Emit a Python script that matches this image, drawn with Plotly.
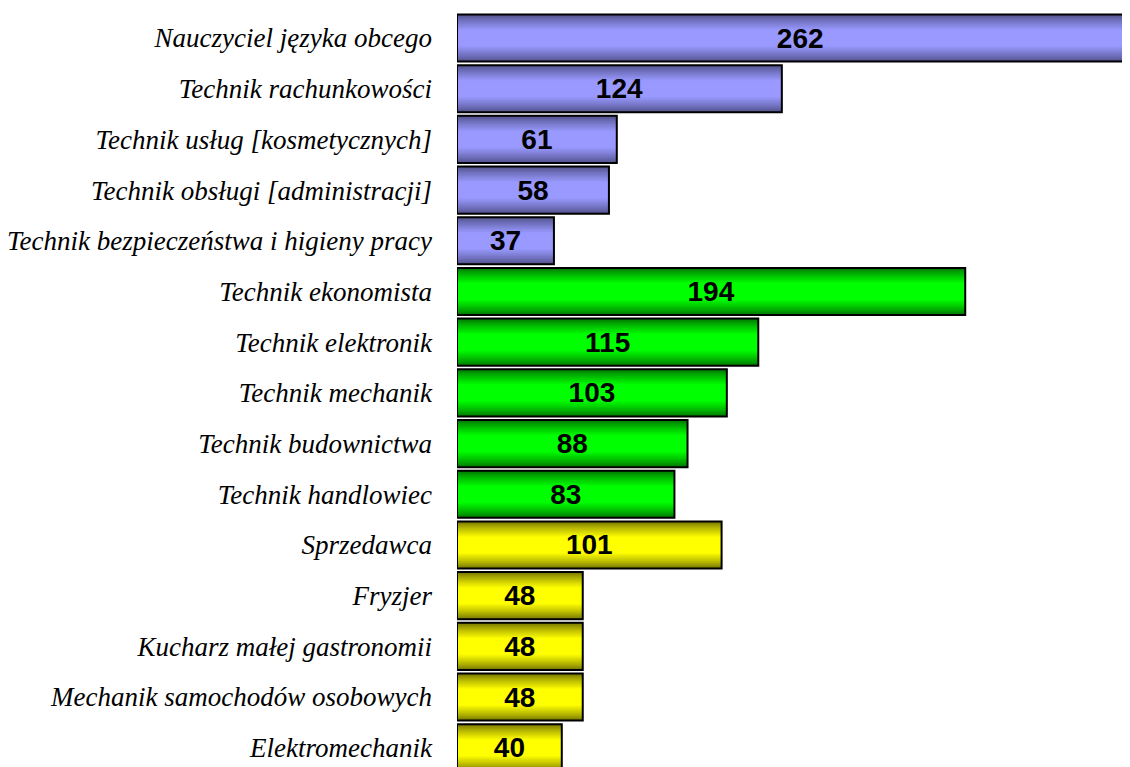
import plotly.graph_objects as go

categories = [
    "Nauczyciel języka obcego",
    "Technik rachunkowości",
    "Technik usług [kosmetycznych]",
    "Technik obsługi [administracji]",
    "Technik bezpieczeństwa i higieny pracy",
    "Technik ekonomista",
    "Technik elektronik",
    "Technik mechanik",
    "Technik budownictwa",
    "Technik handlowiec",
    "Sprzedawca",
    "Fryzjer",
    "Kucharz małej gastronomii",
    "Mechanik samochodów osobowych",
    "Elektromechanik",
]
values = [262, 124, 61, 58, 37, 194, 115, 103, 88, 83, 101, 48, 48, 48, 40]
groups = ["a"] * 5 + ["b"] * 5 + ["c"] * 5

light = {"a": (153, 153, 255), "b": (0, 255, 0), "c": (255, 255, 0)}
dark = {"a": (80, 80, 135), "b": (0, 115, 0), "c": (115, 115, 0)}

pos = list(range(len(categories)))
BW = 0.93

fig = go.Figure()
n_layers = 18
for k in range(n_layers):
    t = k / (n_layers - 1)
    w = BW * (1 - 0.65 * t)
    tt = t ** 0.8
    cols = []
    for g in groups:
        d, l = dark[g], light[g]
        c = tuple(int(d[i] + (l[i] - d[i]) * tt) for i in range(3))
        cols.append("rgb(%d,%d,%d)" % c)
    fig.add_trace(go.Bar(
        x=values, y=pos, orientation="h", width=w,
        marker=dict(color=cols, line=dict(width=0)),
        hoverinfo="skip", showlegend=False,
    ))

fig.add_trace(go.Bar(
    x=values, y=pos, orientation="h", width=BW,
    marker=dict(color="rgba(0,0,0,0)", line=dict(color="black", width=2)),
    text=[str(v) for v in values], textposition="inside",
    insidetextanchor="middle",
    textfont=dict(family="Liberation Sans, Arial", size=28, color="black", weight="bold"),
    showlegend=False,
))

# plot area: 673 px wide (page x 457..1130), rows 50.7 px apart
fig.update_layout(
    width=1122, height=759,
    margin=dict(l=449, r=0, t=0, b=0),
    paper_bgcolor="white", plot_bgcolor="white",
    barmode="overlay",
    xaxis=dict(range=[0, 256.9], visible=False, fixedrange=True),
    yaxis=dict(
        range=[14.38, -0.592], tickvals=pos, ticktext=categories,
        showgrid=False, zeroline=False, showline=False, ticks="",
        ticklabelstandoff=24,
        tickfont=dict(family="Liberation Serif, Times New Roman", size=27,
                      color="black", style="italic"),
    ),
)

fig.write_html("out.html")
